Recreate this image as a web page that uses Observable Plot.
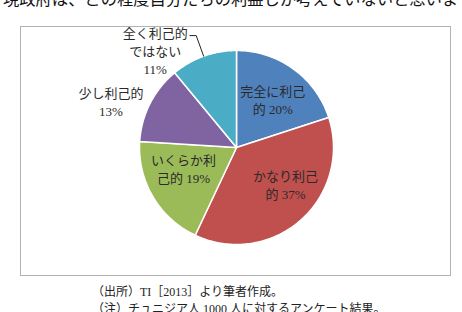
<!DOCTYPE html>
<html>
<head>
<meta charset="utf-8">
<script src="https://cdn.jsdelivr.net/npm/d3@7"></script>
<script src="https://cdn.jsdelivr.net/npm/@observablehq/plot@0.6"></script>
<style>
  body { margin: 0; background: #fff; }
  #page { position: relative; width: 462px; height: 312px; overflow: hidden; background: #fff; }
  #title { position: absolute; left: 3px; top: -10px; font-size: 16.3px; line-height: 16px; white-space: nowrap;
           font-family: "Noto Sans CJK JP", sans-serif; color: #111; }
  #box { position: absolute; left: 20px; top: 26px; width: 429px; height: 248px; border: 1.5px solid #b3b3b3; }
  #chart { position: absolute; left: 0; top: 0; }
  #caption { position: absolute; left: 92px; top: 284px; font-size: 12px; line-height: 17px; color: #222; white-space: nowrap;
             font-family: "Liberation Serif", "Noto Sans CJK JP", serif; }
</style>
</head>
<body>
<div id="page">
  <div id="title">現政府は、どの程度自分たちの利益しか考えていないと思いますか。</div>
  <div id="box"></div>
  <div id="chart"></div>
  <div id="caption">（出所）TI［2013］より筆者作成。<br>（注）チュニジア人 1000 人に対するアンケート結果。</div>
</div>
<script>
// ---- data ----
const categories = ["完全に利己的", "かなり利己的", "いくらか利己的", "少し利己的", "全く利己的ではない"];
const values = [20, 37, 19, 13, 11];
const labelTexts = ["完全に利己\n的 20%", "かなり利己\n的 37%", "いくらか利\n己的 19%", "少し利己的\n13%", "全く利己的\nではない\n11%"];

// ---- styling / layout ----
const colors = ["#4F81BD", "#C0504D", "#9BBB59", "#8064A2", "#4BACC6"];
// label placement (polar: degrees clockwise from top, radius as fraction of pie radius)
const labelAngle = [37, 127, 248.4, 290.1, 320.2];
const labelRadius = [0.62, 0.633, 0.588, 1.378, 1.31];

const toRad = d => d * Math.PI / 180;
const polar = (deg, r) => ({x: r * Math.sin(toRad(deg)), y: r * Math.cos(toRad(deg))});

// slices via d3.pie (clockwise from 12 o'clock, keep order)
const pie = d3.pie().sort(null).value(d => d)(values);
const slicePts = [];
pie.forEach((a, i) => {
  const s = a.startAngle * 180 / Math.PI, e = a.endAngle * 180 / Math.PI;
  const n = Math.max(2, Math.ceil(e - s));
  slicePts.push({cat: categories[i], x: 0, y: 0});
  for (let k = 0; k <= n; k++) {
    const p = polar(s + (e - s) * k / n, 1);
    slicePts.push({cat: categories[i], ...p});
  }
  slicePts.push({cat: categories[i], x: 0, y: 0});
});

const labels = categories.map((c, i) => ({...polar(labelAngle[i], labelRadius[i]), text: labelTexts[i]}));

// leader line for the last slice
const lastMid = (pie[4].startAngle + pie[4].endAngle) / 2 * 180 / Math.PI;
const p0 = polar(lastMid, 1.0), p1 = polar(lastMid, 1.226);
const leader = [p0, p1, {x: p1.x - 0.065, y: p1.y}];

const font = "'Liberation Serif', 'Noto Sans CJK JP', serif";

const chart = Plot.plot({
  width: 462,
  height: 312,
  margin: 0,
  x: {domain: [-1, 1], range: [139, 333], axis: null},
  y: {domain: [-1, 1], range: [244, 50], axis: null},
  color: {type: "ordinal", domain: categories, range: colors},
  style: {background: "transparent", fontFamily: font},
  marks: [
    Plot.line(slicePts, {x: "x", y: "y", z: "cat", fill: "cat", stroke: "#ffffff", strokeWidth: 1.5, strokeLinejoin: "round"}),
    Plot.text(labels, {x: "x", y: "y", text: "text", fill: "#2a2a2a", fontSize: 13, lineHeight: 1.38, fontFamily: font}),
    Plot.line(leader, {x: "x", y: "y", stroke: "#222", strokeWidth: 1})
  ]
});
document.getElementById("chart").appendChild(chart);
</script>
</body>
</html>
